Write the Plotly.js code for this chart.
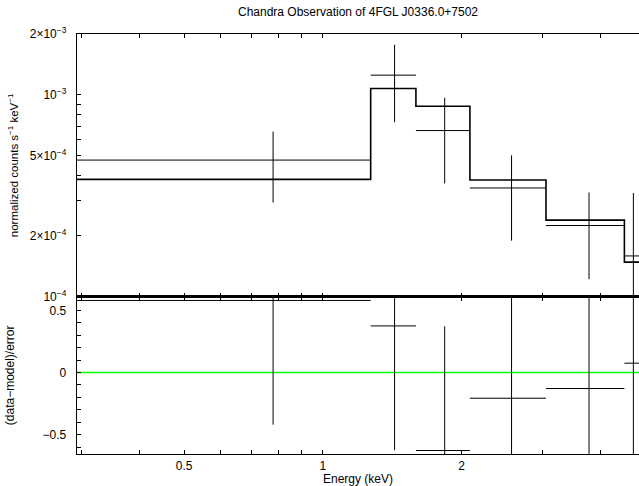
<!DOCTYPE html>
<html>
<head>
<meta charset="utf-8">
<script src="https://cdn.plot.ly/plotly-3.0.1.min.js"></script>
<style>html,body{margin:0;padding:0;background:#fff;overflow:hidden}</style>
</head>
<body>
<div id="chart" style="width:639px;height:486px"></div>
<script>
// ---- data ----
const binLo    = [0.29, 1.27, 1.592, 2.085, 3.049, 4.51];
const binHi    = [1.27, 1.592, 2.085, 3.049, 4.51, 4.92];
const energy   = [0.78, 1.431, 1.838, 2.567, 3.78, 4.717];
const rate     = [4.75e-4, 1.251e-3, 6.65e-4, 3.455e-4, 2.252e-4, 1.592e-4];
const rateErr  = [1.82e-4, 5.19e-4, 3.01e-4, 1.56e-4, 1.03e-4, 1.67e-4];
const model    = [3.81e-4, 1.075e-3, 8.78e-4, 3.784e-4, 2.394e-4, 1.483e-4];
const resid    = [0.58, 0.375, -0.628, -0.207, -0.129, 0.075];
const residErr = [1, 1, 1, 1, 1, 1];

// tick labels
const xTickVals  = [0.5, 1, 2];
const xTickText  = ['0.5', '1', '2'];
const xMinorVals = [0.3, 0.4, 0.6, 0.7, 0.8, 0.9, 3, 4];
const y1TickVals  = [1e-4, 2e-4, 5e-4, 1e-3, 2e-3];
const y1TickText  = ['10<sup>−4</sup>', '2×10<sup>−4</sup>', '5×10<sup>−4</sup>', '10<sup>−3</sup>', '2×10<sup>−3</sup>'];
const y1MinorVals = [3e-4, 4e-4, 6e-4, 7e-4, 8e-4, 9e-4];
const y2TickVals  = [-0.5, 0, 0.5];
const y2TickText  = ['−0.5', '0', '0.5'];
const y2MinorVals = [-0.6, -0.4, -0.3, -0.2, -0.1, 0.1, 0.2, 0.3, 0.4, 0.6];

const errPlus  = energy.map((e, i) => binHi[i] - e);
const errMinus = energy.map((e, i) => e - binLo[i]);
const stepX = binLo.concat([binHi[binHi.length - 1]]);
const stepY = model.concat([model[model.length - 1]]);

const ebx = {type: 'data', symmetric: false, array: errPlus, arrayminus: errMinus, width: 0, thickness: 1, color: '#000'};

const traces = [
  {x: stepX, y: stepY, xaxis: 'x', yaxis: 'y', mode: 'lines', line: {shape: 'hv', color: '#000', width: 1.6}, hoverinfo: 'skip'},
  {x: energy, y: rate, xaxis: 'x', yaxis: 'y', mode: 'markers', marker: {size: 0.1, color: '#000'},
   error_x: ebx, error_y: {type: 'data', array: rateErr, width: 0, thickness: 1, color: '#000'}},
  {x: energy, y: resid, xaxis: 'x2', yaxis: 'y2', mode: 'markers', marker: {size: 0.1, color: '#000'},
   error_x: ebx, error_y: {type: 'data', array: residErr, width: 0, thickness: 1, color: '#000'}}
];

const fam = 'Liberation Sans, Arial, Helvetica, sans-serif';
const fnt = {family: fam, size: 12, color: '#000'};
const fntY = {family: fam, size: 11.5, color: '#000'};
const xRange = [-0.5333, 0.6859];
const split = 0.3745;

const minorCfg = vals => ({tickmode: 'array', tickvals: vals, ticks: 'inside', ticklen: 4, tickwidth: 1, tickcolor: '#000', showgrid: false});

const common = {showline: true, linecolor: '#000', linewidth: 1.3, ticks: 'inside', ticklen: 4, tickwidth: 1,
  tickcolor: '#000', showgrid: false, zeroline: false, tickfont: fnt};

const layout = {
  width: 639, height: 486,
  margin: {l: 77, r: 0, t: 34, b: 32},
  paper_bgcolor: '#fff', plot_bgcolor: '#fff',
  showlegend: false,
  font: fnt,
  title: {text: 'Chandra Observation of 4FGL J0336.0+7502', font: fnt, xref: 'paper', x: 0.5, xanchor: 'center',
          yref: 'container', y: 0.976, yanchor: 'middle'},
  xaxis: Object.assign({}, common, {type: 'log', range: xRange, anchor: 'y', mirror: 'ticks',
          tickmode: 'array', tickvals: xTickVals, ticktext: xTickText, showticklabels: false,
          minor: minorCfg(xMinorVals)}),
  yaxis: Object.assign({}, common, {type: 'log', range: [-4, Math.log10(2e-3)], domain: [split, 1], anchor: 'x',
          tickmode: 'array', tickvals: y1TickVals, ticktext: y1TickText, ticklabelstandoff: 7,
          minor: minorCfg(y1MinorVals),
          title: {text: 'normalized counts s<sup>−1</sup> keV<sup>−1</sup>', font: fntY, standoff: 8}}),
  xaxis2: Object.assign({}, common, {type: 'log', range: xRange, anchor: 'y2', mirror: 'ticks',
          tickmode: 'array', tickvals: xTickVals, ticktext: xTickText,
          minor: minorCfg(xMinorVals),
          title: {text: 'Energy (keV)', font: fnt, standoff: 1}}),
  yaxis2: Object.assign({}, common, {range: [-0.656, 0.61], domain: [0, split], anchor: 'x2',
          tickmode: 'array', tickvals: y2TickVals, ticktext: y2TickText, ticklabelstandoff: 7,
          minor: minorCfg(y2MinorVals),
          title: {text: '(data−model)/error', font: fnt, standoff: 25}}),
  shapes: [{type: 'line', xref: 'x2 domain', yref: 'y2', x0: 0, x1: 1, y0: 0, y1: 0,
            line: {color: 'rgb(0,255,0)', width: 1.5}, layer: 'below'}]
};

Plotly.newPlot('chart', traces, layout, {displayModeBar: false, staticPlot: true});
</script>
</body>
</html>
